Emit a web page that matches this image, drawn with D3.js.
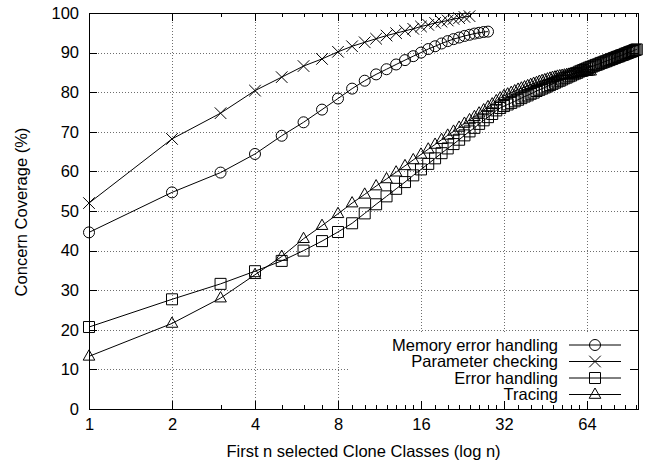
<!DOCTYPE html>
<html lang="en">
<head>
<meta charset="UTF-8">
<title>Concern Coverage</title>
<script src="https://cdn.jsdelivr.net/npm/d3@7"></script>
<style>
    body { margin: 0; background: #fff; }
    svg { display: block; background: #fff; }
    text { font-family: "Liberation Sans", Arial, sans-serif; font-size: 16.5px; fill: #000; }
    .axis path { display: none; }
    .axis line { stroke: #000; shape-rendering: crispEdges; }
    .axis text { font-family: "Liberation Sans", Arial, sans-serif; font-size: 16.5px; }
    .grid line { stroke: #6e6e6e; stroke-dasharray: 1,2; shape-rendering: crispEdges; }
    .series path.line { fill: none; stroke: #000; stroke-width: 1; }
    .mark { fill: none; stroke: #000; stroke-width: 1; }
</style>
</head>
<body>
<script>
    // data, index i -> n = i + 1
    var memoryError = [44.6, 54.7, 59.7, 64.4, 69.0, 72.4, 75.6, 78.4, 80.9, 82.9, 84.5, 85.8, 87.0, 88.1,
        89.1, 90.0, 90.9, 91.6, 92.3, 92.9, 93.4, 93.8, 94.2, 94.5, 94.8, 95.0, 95.2, 95.3];
    var paramChecking = [52.0, 68.2, 74.7, 80.4, 83.8, 86.6, 88.4, 90.2, 91.6, 92.6, 93.5, 94.3, 94.9, 95.5,
        96.0, 96.6, 97.0, 97.5, 97.8, 98.1, 98.5, 98.7, 99.0, 99.2];
    var errorHandling = [20.7, 27.7, 31.6, 34.8, 37.4, 40.0, 42.4, 44.7, 46.9,
        49.4, 51.7, 53.7, 55.6, 57.3, 59.0, 60.5, 61.9, 63.3, 64.6, 65.8, 66.9, 68.0, 69.1, 70.1, 71.0, 72.0, 72.9, 73.7, 74.5, 75.4,
        76.0, 76.5, 76.9, 77.3, 77.7, 78.1, 78.5, 78.9, 79.2, 79.6,
        79.9, 80.3, 80.6, 80.9, 81.2, 81.5, 81.8, 82.1, 82.4, 82.7,
        82.9, 83.2, 83.5, 83.7, 84.0, 84.2, 84.5, 84.7, 84.9, 85.2,
        85.4, 85.6, 85.8, 86.0,
        86.2, 86.4, 86.5, 86.7, 86.9, 87.0, 87.2, 87.4, 87.5, 87.7,
        87.8, 88.0, 88.1, 88.3, 88.4, 88.6, 88.7, 88.9, 89.0, 89.1,
        89.3, 89.4, 89.5, 89.7, 89.8, 89.9, 90.1, 90.2, 90.3, 90.4, 90.6, 90.7, 90.8];
    var tracing = [13.3, 21.6, 28.0, 33.9, 38.5, 43.0, 46.3, 49.3, 52.0,
        54.2, 56.3, 58.1, 59.8, 61.4, 62.9, 64.3, 65.6, 66.8, 68.0, 69.1, 70.1, 71.1, 72.1, 73.0, 73.8, 74.7, 75.5, 76.3, 77.0, 77.8,
        78.5, 79.1, 79.5, 79.9, 80.3, 80.7, 81.0, 81.3, 81.6, 81.9,
        82.2, 82.4, 82.7, 82.9, 83.1, 83.3, 83.5, 83.7, 83.8, 84.0,
        84.1, 84.2, 84.3, 84.4, 84.5, 84.6, 84.7, 84.8, 84.9, 85.0,
        85.0, 85.1, 85.2, 85.2, 85.3, 85.3];

    var seriesNames = ["Memory error handling", "Parameter checking", "Error handling", "Tracing"];
    var seriesMarks = ["circle", "cross", "square", "triangle"];
    var xTicks = [1, 2, 4, 8, 16, 32, 64];
    var xMinorTicks = [3, 5, 6, 7, 9, 10, 11, 12, 13, 14, 15, 18, 20, 22, 24, 26, 28, 30,
        36, 40, 44, 48, 52, 56, 60, 72, 80, 88, 96];
    var yTicks = [0, 10, 20, 30, 40, 50, 60, 70, 80, 90, 100];

    var width = 648, height = 464;
    var plot = {left: 89, right: 638, top: 13, bottom: 409};

    var svg = d3.select("body").append("svg")
        .attr("width", width)
        .attr("height", height);

    var x = d3.scaleLog().base(2).domain([1, 98]).range([plot.left, plot.right]);
    var y = d3.scaleLinear().domain([0, 100]).range([plot.bottom, plot.top]);

    // grid
    var grid = svg.append("g").attr("class", "grid");
    grid.selectAll(".gx").data(xTicks.slice(1)).enter().append("line")
        .attr("x1", function(d) { return Math.round(x(d)) + 0.5; })
        .attr("x2", function(d) { return Math.round(x(d)) + 0.5; })
        .attr("y1", plot.top).attr("y2", plot.bottom);
    grid.selectAll(".gy").data(yTicks.slice(1, -1)).enter().append("line")
        .attr("x1", plot.left).attr("x2", plot.right)
        .attr("y1", function(d) { return Math.round(y(d)) + 0.5; })
        .attr("y2", function(d) { return Math.round(y(d)) + 0.5; });

    // legend background clears the grid
    svg.append("rect")
        .attr("x", 350).attr("y", 333)
        .attr("width", plot.right - 351).attr("height", plot.bottom - 334)
        .attr("fill", "#fff");

    // axes, ticks pointing inwards
    svg.append("g").attr("class", "axis")
        .attr("transform", "translate(0," + plot.bottom + ")")
        .call(d3.axisBottom(x).tickValues(xTicks).tickFormat(d3.format("d"))
            .tickSizeInner(-8).tickSizeOuter(0).tickPadding(9));
    svg.append("g").attr("class", "axis")
        .attr("transform", "translate(0," + plot.bottom + ")")
        .call(d3.axisBottom(x).tickValues(xMinorTicks).tickFormat("").tickSizeInner(-4).tickSizeOuter(0));
    svg.append("g").attr("class", "axis")
        .attr("transform", "translate(0," + plot.top + ")")
        .call(d3.axisTop(x).tickValues(xTicks).tickFormat("").tickSizeInner(-8).tickSizeOuter(0));
    svg.append("g").attr("class", "axis")
        .attr("transform", "translate(0," + plot.top + ")")
        .call(d3.axisTop(x).tickValues(xMinorTicks).tickFormat("").tickSizeInner(-4).tickSizeOuter(0));
    svg.append("g").attr("class", "axis")
        .attr("transform", "translate(" + plot.left + ",0)")
        .call(d3.axisLeft(y).tickValues(yTicks).tickSizeInner(-8).tickSizeOuter(0).tickPadding(10));
    svg.append("g").attr("class", "axis")
        .attr("transform", "translate(" + plot.right + ",0)")
        .call(d3.axisRight(y).tickValues(yTicks).tickFormat("").tickSizeInner(-8).tickSizeOuter(0));

    // border
    svg.append("rect")
        .attr("x", plot.left + 0.5).attr("y", plot.top + 0.5)
        .attr("width", plot.right - plot.left).attr("height", plot.bottom - plot.top)
        .attr("fill", "none").attr("stroke", "#000").attr("shape-rendering", "crispEdges");

    // axis titles
    svg.append("text")
        .attr("x", (plot.left + plot.right) / 2).attr("y", 456.5)
        .attr("text-anchor", "middle")
        .text("First n selected Clone Classes (log n)");
    svg.append("text")
        .attr("transform", "translate(27," + 212 + ") rotate(-90)")
        .attr("text-anchor", "middle")
        .text("Concern Coverage (%)");

    function markPath(type) {
        switch (type) {
            case "circle": return "M5.5,0A5.5,5.5 0 1,1 -5.5,0A5.5,5.5 0 1,1 5.5,0Z";
            case "cross": return "M-5.8,-5.8L5.8,5.8M-5.8,5.8L5.8,-5.8";
            case "square": return "M-5.5,-5.5H5.5V5.5H-5.5Z";
            case "triangle": return "M0,-6.5L5.8,3.8H-5.8Z";
        }
    }

    var allSeries = [memoryError, paramChecking, errorHandling, tracing];
    var line = d3.line()
        .x(function(d, i) { return x(i + 1); })
        .y(function(d) { return y(d); });

    allSeries.forEach(function(values, k) {
        var g = svg.append("g").attr("class", "series");
        g.append("path").attr("class", "line").attr("d", line(values));
        g.selectAll(".mark").data(values).enter().append("path")
            .attr("class", "mark")
            .attr("transform", function(d, i) { return "translate(" + x(i + 1) + "," + y(d) + ")"; })
            .attr("d", markPath(seriesMarks[k]));
    });

    // legend
    var legend = svg.append("g");
    var rowY = [345, 361.5, 378, 394.5];
    seriesNames.forEach(function(name, k) {
        var row = legend.append("g").attr("transform", "translate(0," + rowY[k] + ")");
        row.append("text").attr("x", 558).attr("y", 0).attr("dy", "0.35em")
            .attr("text-anchor", "end").text(name);
        row.append("line").attr("x1", 569).attr("x2", 621).attr("y1", 0).attr("y2", 0)
            .attr("stroke", "#000");
        row.append("path").attr("class", "mark").attr("transform", "translate(595,0)")
            .attr("d", markPath(seriesMarks[k]));
    });
</script>
</body>
</html>
